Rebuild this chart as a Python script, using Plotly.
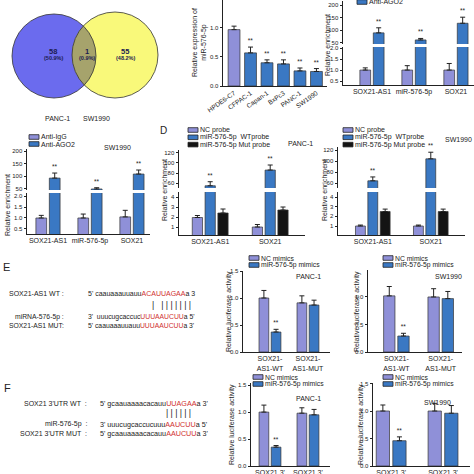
import numpy as np
import plotly.graph_objects as go

# ---------------- data ----------------
venn_counts = ['58', '1', '55']
venn_pcts = ['(50.9%)', '(0.9%)', '(48.2%)']
venn_sets = ['PANC-1', 'SW1990']

b_cells = ['HPDE6-C7', 'CFPAC-1', 'Capan-1', 'BxPc3', 'PANC-1', 'SW1990']
b_expr = [0.97, 0.57, 0.40, 0.38, 0.26, 0.25]
b_err = [0.06, 0.10, 0.05, 0.07, 0.05, 0.05]
b_sig = ['', '**', '**', '**', '**', '**']

rip_targets = ['SOX21-AS1', 'miR-576-5p', 'SOX21']
rip_series = ['Anti-IgG', 'Anti-AGO2']
rip_panc_igg = [1.0, 1.0, 1.0]
rip_panc_igg_err = [0.1, 0.2, 0.3]
rip_panc_ago2 = [90, 62, 128]
rip_panc_ago2_err = [20, 6, 24]
rip_sw_igg = [1.0, 1.0, 1.05]
rip_sw_igg_err = [0.12, 0.18, 0.3]
rip_sw_ago2 = [93, 50, 109]
rip_sw_ago2_err = [20, 5, 16]

pull_targets = ['SOX21-AS1', 'SOX21']
pull_series = ['NC probe', 'miR-576-5p  WTprobe', 'miR-576-5p Mut probe']
pull_panc_nc = [1.95, 1.0]
pull_panc_nc_err = [0.2, 0.25]
pull_panc_wt = [55, 86]
pull_panc_wt_err = [8, 10]
pull_panc_mut = [2.4, 2.7]
pull_panc_mut_err = [0.4, 0.3]
pull_sw_nc = [1.0, 1.0]
pull_sw_nc_err = [0.1, 0.1]
pull_sw_wt = [64, 104]
pull_sw_wt_err = [7, 12]
pull_sw_mut = [2.5, 2.5]
pull_sw_mut_err = [0.25, 0.25]

luc_series = ['NC mimics', 'miR-576-5p mimics']
luc_e_groups = ['SOX21-<br>AS1-WT', 'SOX21-<br>AS1-MUT']
luc_e_panc_nc = [1.0, 0.91]
luc_e_panc_nc_err = [0.14, 0.13]
luc_e_panc_mim = [0.37, 0.87]
luc_e_panc_mim_err = [0.05, 0.09]
luc_e_sw_nc = [1.02, 1.0]
luc_e_sw_nc_err = [0.17, 0.15]
luc_e_sw_mim = [0.29, 0.97]
luc_e_sw_mim_err = [0.05, 0.13]
luc_f_groups = ["SOX21 3'<br>UTR-WT", "SOX21 3'<br>UTR-MUT"]
luc_f_panc_nc = [1.0, 0.98]
luc_f_panc_nc_err = [0.13, 0.1]
luc_f_panc_mim = [0.35, 0.95]
luc_f_panc_mim_err = [0.03, 0.1]
luc_f_sw_nc = [1.0, 1.0]
luc_f_sw_nc_err = [0.11, 0.14]
luc_f_sw_mim = [0.46, 0.96]
luc_f_sw_mim_err = [0.07, 0.14]

# ---------------- styling ----------------
W = H = 474
FONT = 'Liberation Sans, Arial, sans-serif'
PURPLE = '#8f90d8'
BLUE = '#3a78c3'
BLACK = '#141414'
RED = '#d0302f'
TXT = '#222222'


def px(x):
    return x / W


def py(y):
    return 1 - y / H


fig = go.Figure()
layout = dict(width=W, height=H, margin=dict(l=0, r=0, t=0, b=0, pad=0),
              paper_bgcolor='white', plot_bgcolor='rgba(0,0,0,0)',
              showlegend=False, barmode='group', bargap=0.36, bargroupgap=0.2,
              font=dict(family=FONT, color=TXT))
shapes = []
annotations = []
counter = [0]


def new_axes(x0, x1, ytop, ybot, xrange, yrange, yticks, ytickfmt, show_x, xtickangle=0, xfont=7):
    counter[0] += 1
    n = counter[0]
    xn = 'xaxis' if n == 1 else f'xaxis{n}'
    yn = 'yaxis' if n == 1 else f'yaxis{n}'
    xr = 'x' if n == 1 else f'x{n}'
    yr = 'y' if n == 1 else f'y{n}'
    layout[xn] = dict(domain=[px(x0), px(x1)], anchor=yr, range=xrange, type='category',
                      visible=show_x, showline=True, linecolor=TXT, linewidth=1,
                      ticks='', showgrid=False, zeroline=False, tickangle=xtickangle,
                      tickfont=dict(size=xfont, color=TXT, family=FONT), fixedrange=True,
                      automargin=False)
    layout[yn] = dict(domain=[py(ybot), py(ytop)], anchor=xr, range=yrange,
                      showline=True, linecolor=TXT, linewidth=1, ticks='outside', ticklen=2.5,
                      tickwidth=1, tickcolor=TXT, tickvals=yticks, tickformat=ytickfmt,
                      showgrid=False, zeroline=False, automargin=False,
                      tickfont=dict(size=6, color=TXT, family=FONT), fixedrange=True)
    return xr, yr


def bar_panel(x0, x1, xrange, segments, cats, series, width=None, xtickangle=0, xfont=7):
    """segments: list of (ytop, ybot, yrange, ticks, fmt), top to bottom."""
    for si, (yt, yb, yrg, ticks, fmt) in enumerate(segments):
        last = si == len(segments) - 1
        xr, yr = new_axes(x0, x1, yt, yb, xrange, yrg, ticks, fmt, last, xtickangle, xfont)
        for k, (name, color, vals, errs, sig) in enumerate(series):
            fig.add_trace(go.Bar(
                x=cats, y=vals, name=name, xaxis=xr, yaxis=yr, offsetgroup=str(k),
                width=width, marker=dict(color=color, line=dict(color='#333', width=0.7)),
                error_y=dict(type='data', array=errs, arrayminus=[0] * len(errs), symmetric=False,
                             color=TXT, thickness=1, width=2.5),
                hoverinfo='skip'))
            if si == 0 and sig is not None and any(sig):
                tops = [v + e for v, e in zip(vals, errs)]
                fig.add_trace(go.Bar(
                    x=cats, y=tops, xaxis=xr, yaxis=yr, offsetgroup=str(k), width=width,
                    marker=dict(color='rgba(0,0,0,0)', line=dict(width=0)),
                    text=sig, textposition='outside', cliponaxis=False,
                    textfont=dict(size=6.5, color=TXT, family=FONT), hoverinfo='skip'))


def text(x, y, s, size=7, anchor='center', angle=0, color=TXT, bold=False):
    annotations.append(dict(text=(f'<b>{s}</b>' if bold else s), x=px(x), y=py(y),
                            xref='paper', yref='paper', showarrow=False, xanchor=anchor,
                            yanchor='middle', textangle=angle, borderpad=0,
                            font=dict(size=size, color=color, family=FONT)))


def legend_item(x, y, color, label, size=7):
    shapes.append(dict(type='rect', xref='paper', yref='paper', x0=px(x), x1=px(x + 10),
                       y0=py(y + 2.3), y1=py(y - 2.3), fillcolor=color,
                       line=dict(color='#222', width=0.8)))
    text(x + 11, y, label, size=size, anchor='left')


# ---------------- A: Venn ----------------
c1, r1 = np.array([54.0, 56.0]), 42.0
c2, r2 = np.array([115.0, 55.0]), 43.0
for c, r, col in [(c1, r1, '#6b6bee'), (c2, r2, '#f9f97a')]:
    shapes.append(dict(type='circle', xref='paper', yref='paper', x0=px(c[0] - r), x1=px(c[0] + r),
                       y0=py(c[1] + r), y1=py(c[1] - r), fillcolor=col, line=dict(width=0)))
d = np.linalg.norm(c2 - c1)
phi = np.arctan2(c2[1] - c1[1], c2[0] - c1[0])
t1 = np.arccos((d ** 2 + r1 ** 2 - r2 ** 2) / (2 * d * r1))
t2 = np.arccos((d ** 2 + r2 ** 2 - r1 ** 2) / (2 * d * r2))
pts = [c1 + r1 * np.array([np.cos(phi + t), np.sin(phi + t)]) for t in np.linspace(-t1, t1, 40)]
pts += [c2 + r2 * np.array([np.cos(phi + np.pi + t), np.sin(phi + np.pi + t)]) for t in np.linspace(-t2, t2, 40)]
path = 'M ' + ' L '.join(f'{px(p[0]):.5f},{py(p[1]):.5f}' for p in pts) + ' Z'
shapes.append(dict(type='path', xref='paper', yref='paper', path=path, fillcolor='#a6a36c', line=dict(width=0)))
for c, r in [(c1, r1), (c2, r2)]:
    shapes.append(dict(type='circle', xref='paper', yref='paper', x0=px(c[0] - r), x1=px(c[0] + r),
                       y0=py(c[1] + r), y1=py(c[1] - r), line=dict(color='#333', width=0.8)))
for xx, cnt, pct in zip([53, 87, 125], venn_counts, venn_pcts):
    text(xx, 51, cnt, size=7.5, color='#1c1c50', bold=True)
    text(xx, 57.5, pct, size=5.5, color='#1c1c50', bold=True)
text(57, 118, venn_sets[0], size=7)
text(96, 118, venn_sets[1], size=7)

# ---------------- B ----------------
bar_panel(223, 327, [-0.67, 5.64], [(0, 86, [0, 1.48], [0, 0.5, 1.0], '.1f')], b_cells,
          [('expr', [PURPLE] + [BLUE] * 5, b_expr, b_err, b_sig)], width=0.72, xtickangle=-35, xfont=6.5)
text(199, 43, 'Relative expression of<br>miR-576-5p', size=7, angle=-90)

# ---------------- C (right, PANC-1) ----------------
rip_sig = ['**', '**', '**']
bar_panel(343, 474, [-0.69, 2.43],
          [(1, 44, [46, 216], [50, 100, 150, 200], 'd'),
           (47, 85, [0.32, 2.05], [0.5, 1.0, 1.5, 2.0], '.1f')],
          rip_targets,
          [(rip_series[0], PURPLE, rip_panc_igg, rip_panc_igg_err, None),
           (rip_series[1], BLUE, rip_panc_ago2, rip_panc_ago2_err, rip_sig)])
text(327, 45, 'Relative enrichment', size=7, angle=-90)
legend_item(357, -6, PURPLE, rip_series[0])
legend_item(357, 2, BLUE, rip_series[1])

# ---------------- C (left, SW1990) ----------------
bar_panel(27, 150, [-0.5, 2.43],
          [(149, 190, [46, 208], [50, 100, 150, 200], 'd'),
           (193, 234, [0.27, 2.14], [0.5, 1.0, 1.5, 2.0], '.1f')],
          rip_targets,
          [(rip_series[0], PURPLE, rip_sw_igg, rip_sw_igg_err, None),
           (rip_series[1], BLUE, rip_sw_ago2, rip_sw_ago2_err, rip_sig)])
text(8, 205, 'Relative enrichment', size=7, angle=-90)
legend_item(29, 137, PURPLE, rip_series[0])
legend_item(29, 144, BLUE, rip_series[1])
text(117, 148, 'SW1990', size=7)

# ---------------- D ----------------
pull_sig = ['**', '**']
bar_panel(179, 305, [-0.52, 1.58],
          [(150, 188, [50.6, 125.6], [60, 80, 100, 120], 'd'),
           (192, 235, [0.2, 4.5], [1, 2, 3, 4], 'd')],
          pull_targets,
          [(pull_series[0], PURPLE, pull_panc_nc, pull_panc_nc_err, None),
           (pull_series[1], BLUE, pull_panc_wt, pull_panc_wt_err, pull_sig),
           (pull_series[2], BLACK, pull_panc_mut, pull_panc_mut_err, None)])
text(164, 190, 'Relative enrichment', size=7, angle=-90)
for i, (nm, col) in enumerate(zip(pull_series, [PURPLE, BLUE, BLACK])):
    legend_item(188, 130 + 7.3 * i, col, nm)
text(300, 143, 'PANC-1', size=7)
text(163, 130, 'D', size=10)

bar_panel(338, 465, [-0.6, 1.59],
          [(147, 188, [50.9, 125.5], [60, 80, 100, 120], 'd'),
           (192, 235, [0.07, 4.52], [1, 2, 3, 4], 'd')],
          pull_targets,
          [(pull_series[0], PURPLE, pull_sw_nc, pull_sw_nc_err, None),
           (pull_series[1], BLUE, pull_sw_wt, pull_sw_wt_err, pull_sig),
           (pull_series[2], BLACK, pull_sw_mut, pull_sw_mut_err, None)])
text(324, 190, 'Relative enrichment', size=7, angle=-90)
for i, (nm, col) in enumerate(zip(pull_series, [PURPLE, BLUE, BLACK])):
    legend_item(343, 130 + 7.3 * i, col, nm)
text(444, 140, 'SW1990', size=7, anchor='left')

# ---------------- E ----------------
luc_sig = ['**', '']
bar_panel(243, 330, [-0.71, 1.58], [(271, 352, [0, 1.5], [0, 0.5, 1.0, 1.5], '.1f')], luc_e_groups,
          [(luc_series[0], PURPLE, luc_e_panc_nc, luc_e_panc_nc_err, None),
           (luc_series[1], BLUE, luc_e_panc_mim, luc_e_panc_mim_err, luc_sig)])
bar_panel(368, 462, [-0.64, 1.48], [(270, 352, [0, 1.49], [0, 0.5, 1.0, 1.5], '.1f')], luc_e_groups,
          [(luc_series[0], PURPLE, luc_e_sw_nc, luc_e_sw_nc_err, None),
           (luc_series[1], BLUE, luc_e_sw_mim, luc_e_sw_mim_err, luc_sig)])
text(229, 312, 'Relative luciferase activity', size=7, angle=-90)
text(357, 312, 'Relative luciferase activity', size=7, angle=-90)
legend_item(249, 258, PURPLE, luc_series[0], size=6.8)
legend_item(249, 265, BLUE, luc_series[1], size=6.8)
legend_item(383, 258, PURPLE, luc_series[0], size=6.8)
legend_item(383, 265, BLUE, luc_series[1], size=6.8)
text(308, 276, 'PANC-1', size=7)
text(448, 276, 'SW1990', size=7)
text(6, 267, 'E', size=11)


def red(s):
    return f'<span style="color:{RED}">{s}</span>'


SEQ = 7.0
text(65, 293, 'SOX21-AS1 WT :', size=7, anchor='right')
text(87, 293, "5' caauaaauuauu" + red('ACAUUAGAA') + 'a 3', size=SEQ, anchor='left')
text(151, 305, '|   | | | | | | |', size=8.5, anchor='left')
text(65, 316.5, 'miRNA-576-5p :', size=6.8, anchor='right')
text(87, 316.5, "3'  uuucugcaccuc" + red('UUUAAUCUU') + "a 5'", size=6.8, anchor='left')
text(65, 325, 'SOX21-AS1 MUT:', size=6.8, anchor='right')
text(87, 325, "5' caauaaauuauu" + red('UUUAAUCUU') + "a 3'", size=6.8, anchor='left')

# ---------------- F ----------------
bar_panel(251, 330, [-0.5, 1.58], [(383, 466, [0, 1.54], [0, 0.5, 1.0, 1.5], '.1f')], luc_f_groups,
          [(luc_series[0], PURPLE, luc_f_panc_nc, luc_f_panc_nc_err, None),
           (luc_series[1], BLUE, luc_f_panc_mim, luc_f_panc_mim_err, luc_sig)])
bar_panel(373, 470, [-0.35, 1.52], [(383, 466, [0, 1.51], [0, 0.5, 1.0, 1.5], '.1f')], luc_f_groups,
          [(luc_series[0], PURPLE, luc_f_sw_nc, luc_f_sw_nc_err, None),
           (luc_series[1], BLUE, luc_f_sw_mim, luc_f_sw_mim_err, luc_sig)])
text(232, 425, 'Relative luciferase activity', size=7, angle=-90)
text(361, 425, 'Relative luciferase activity', size=7, angle=-90)
legend_item(253, 377, PURPLE, luc_series[0], size=6.8)
legend_item(253, 384, BLUE, luc_series[1], size=6.8)
legend_item(383, 377, PURPLE, luc_series[0], size=6.8)
legend_item(383, 384, BLUE, luc_series[1], size=6.8)
text(308, 398, 'PANC-1', size=7)
text(437, 402, 'SW1990', size=7)
text(7, 388, 'F', size=11)

SEQF = 7.2
text(88, 403, "SOX21 3'UTR WT  :", size=7, anchor='right')
text(99, 403, "5' gcaauaaaacacauu" + red('UUAGAA') + "a 3'", size=SEQF, anchor='left')
text(165, 413, '| | | | | |', size=8.5, anchor='left')
text(88, 424, 'miR-576-5p  :', size=7, anchor='right')
text(99, 424, "3' uuucugcaccucuuu" + red('AAUCUU') + "a 5'", size=SEQF, anchor='left')
text(88, 433, "SOX21 3'UTR MUT  :", size=7, anchor='right')
text(99, 433, "5' gcaauaaaacacauu" + red('AAUCUU') + "a 3'", size=SEQF, anchor='left')

layout['shapes'] = shapes
layout['annotations'] = annotations
fig.update_layout(**layout)
fig.write_html('out.html', config={'displayModeBar': False},
               post_script="document.body.style.margin='0';document.body.style.padding='0';")
